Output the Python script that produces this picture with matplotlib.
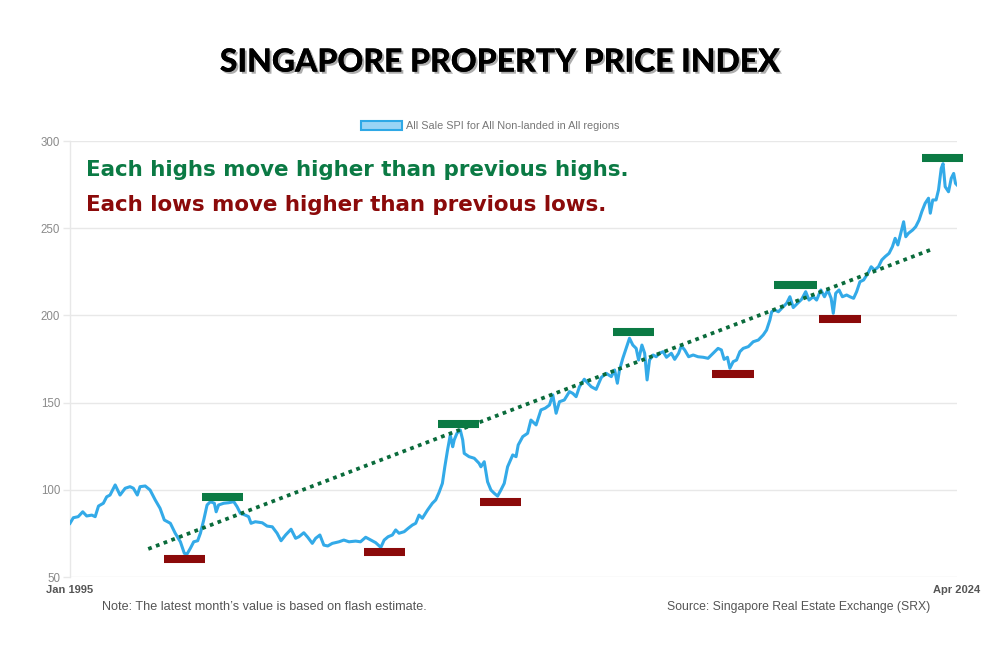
import matplotlib
matplotlib.use("Agg")
import matplotlib.pyplot as plt
from matplotlib.patches import Patch
import matplotlib.patheffects as pe

# ---------------- data ----------------
dates = [1995.00, 1995.11, 1995.27, 1995.42, 1995.55, 1995.72, 1995.83, 1995.94,
         1996.10, 1996.21, 1996.32, 1996.49, 1996.65, 1996.82, 1996.98, 1997.09,
         1997.22, 1997.31, 1997.48, 1997.64, 1997.81, 1997.97, 1998.11, 1998.31,
         1998.47, 1998.64, 1998.77, 1998.86, 1998.97, 1999.08, 1999.21, 1999.30,
         1999.41, 1999.52, 1999.63, 1999.76, 1999.82, 1999.90, 2000.07, 2000.23,
         2000.40, 2000.51, 2000.62, 2000.78, 2000.89, 2000.97, 2001.11, 2001.34,
         2001.50, 2001.67, 2001.83, 2001.96, 2002.11, 2002.29, 2002.44, 2002.55,
         2002.71, 2002.84, 2002.99, 2003.10, 2003.24, 2003.37, 2003.50, 2003.65,
         2003.87, 2004.03, 2004.20, 2004.42, 2004.58, 2004.75, 2004.92, 2005.08,
         2005.25, 2005.36, 2005.49, 2005.63, 2005.74, 2005.85, 2006.02, 2006.15,
         2006.29, 2006.40, 2006.51, 2006.62, 2006.79, 2006.95, 2007.06, 2007.17,
         2007.28, 2007.36, 2007.45, 2007.54, 2007.62, 2007.67, 2007.76, 2007.87,
         2007.95, 2008.00, 2008.16, 2008.33, 2008.49, 2008.55, 2008.66, 2008.77,
         2008.88, 2008.99, 2009.10, 2009.21, 2009.32, 2009.43, 2009.60, 2009.71,
         2009.78, 2009.93, 2010.09, 2010.20, 2010.37, 2010.53, 2010.67, 2010.81,
         2010.92, 2011.03, 2011.14, 2011.30, 2011.47, 2011.58, 2011.69, 2011.80,
         2011.96, 2012.08, 2012.19, 2012.35, 2012.52, 2012.68, 2012.85, 2012.96,
         2013.05, 2013.12, 2013.23, 2013.34, 2013.45, 2013.56, 2013.67, 2013.75,
         2013.86, 2013.95, 2014.03, 2014.11, 2014.23, 2014.33, 2014.44, 2014.56,
         2014.67, 2014.83, 2014.94, 2015.07, 2015.16, 2015.27, 2015.40, 2015.55,
         2015.71, 2015.88, 2016.04, 2016.21, 2016.37, 2016.48, 2016.57, 2016.68,
         2016.76, 2016.87, 2016.98, 2017.09, 2017.20, 2017.37, 2017.53, 2017.70,
         2017.86, 2017.97, 2018.08, 2018.14, 2018.24, 2018.36, 2018.52, 2018.63,
         2018.74, 2018.85, 2019.02, 2019.13, 2019.26, 2019.37, 2019.51, 2019.62,
         2019.76, 2019.88, 2019.99, 2020.10, 2020.17, 2020.25, 2020.36, 2020.47,
         2020.61, 2020.72, 2020.84, 2020.94, 2021.05, 2021.17, 2021.31, 2021.42,
         2021.53, 2021.66, 2021.77, 2021.88, 2022.01, 2022.12, 2022.21, 2022.30,
         2022.41, 2022.49, 2022.56, 2022.65, 2022.79, 2022.89, 2023.00, 2023.09,
         2023.20, 2023.31, 2023.37, 2023.45, 2023.56, 2023.64, 2023.73, 2023.79,
         2023.86, 2023.97, 2024.06, 2024.14, 2024.20, 2024.25]

spi = [80.8, 84.0, 84.6, 87.4, 85.0, 85.5, 84.6, 90.7,
       92.3, 96.0, 97.0, 102.8, 97.0, 100.9, 101.8, 100.9,
       97.0, 101.8, 102.2, 99.9, 94.2, 89.4, 82.7, 80.8,
       75.1, 70.2, 63.6, 63.2, 66.5, 70.2, 70.8, 75.1,
       82.7, 91.3, 93.2, 92.3, 87.4, 91.3, 92.3, 92.6,
       93.2, 90.3, 86.5, 85.5, 84.6, 80.8, 81.7, 81.1,
       79.2, 78.8, 75.1, 70.8, 74.1, 77.4, 72.2, 73.1,
       75.4, 72.8, 69.3, 72.2, 74.1, 68.3, 67.8, 69.3,
       70.2, 71.2, 70.2, 70.6, 70.2, 72.8, 71.2, 69.7,
       67.0, 71.2, 73.1, 74.1, 77.0, 75.1, 76.0, 77.9,
       79.8, 80.8, 85.5, 83.7, 88.4, 92.3, 94.2, 98.5,
       103.7, 113.2, 122.8, 131.4, 124.7, 128.6, 132.4, 134.3,
       128.6, 120.9, 119.0, 118.1, 115.2, 113.2, 116.1, 104.6,
       99.9, 98.0, 96.4, 99.9, 103.7, 113.2, 120.0, 119.0,
       125.7, 130.5, 132.4, 140.0, 137.2, 145.8, 146.8, 148.6,
       154.4, 143.9, 150.5, 151.5, 156.3, 155.3, 153.4, 159.1,
       163.4, 161.1, 159.1, 157.6, 164.4, 166.8, 164.9, 168.7,
       161.1, 168.7, 175.4, 181.1, 186.9, 183.0, 181.1, 174.4,
       183.0, 178.3, 163.0, 174.4, 177.3, 176.3, 178.3, 179.2,
       176.0, 178.3, 174.8, 178.3, 182.5, 180.2, 176.3, 177.3,
       176.3, 176.0, 175.4, 178.3, 181.1, 180.2, 174.8, 176.0,
       169.7, 173.5, 174.4, 179.2, 181.1, 182.1, 184.9, 185.9,
       188.8, 191.6, 197.4, 202.1, 203.1, 202.1, 205.0, 206.9,
       210.7, 204.5, 207.4, 209.3, 213.6, 208.8, 210.7, 208.8,
       214.6, 210.7, 214.6, 209.8, 201.2, 212.7, 214.6, 210.7,
       211.7, 210.7, 209.8, 213.6, 219.3, 220.3, 224.1, 227.9,
       226.0, 227.9, 231.8, 233.7, 235.6, 239.4, 244.2, 240.4,
       248.0, 253.7, 245.1, 247.1, 249.0, 250.9, 254.7, 259.5,
       264.3, 267.2, 258.6, 266.2, 266.2, 271.9, 284.3, 287.0,
       273.8, 270.9, 278.6, 281.4, 275.7, 274.8]

# highs / lows markers (start, end, level)
high_start = [1999.36, 2007.13, 2012.91, 2018.23, 2023.09]
high_end   = [2000.72, 2008.48, 2014.27, 2019.62, 2024.45]
high_level = [95.9, 137.9, 190.5, 217.7, 290.3]

low_start = [1998.11, 2004.68, 2008.52, 2016.18, 2019.69]
low_end   = [1999.46, 2006.04, 2009.87, 2017.57, 2021.08]
low_level = [60.3, 64.3, 93.3, 166.4, 198.2]

trend_x = [1997.58, 2023.36]
trend_y = [66.1, 237.5]

y_ticks = [50, 100, 150, 200, 250, 300]
x_tick_pos = [1995.0, 2024.25]
x_tick_labels = ["Jan 1995", "Apr 2024"]

title = "SINGAPORE PROPERTY PRICE INDEX"
legend_label = "All Sale SPI for All Non-landed in All regions"
note_text = "Note: The latest month\u2019s value is based on flash estimate."
source_text = "Source: Singapore Real Estate Exchange (SRX)"
highs_text = "Each highs move higher than previous highs."
lows_text = "Each lows move higher than previous lows."

# ---------------- styling ----------------
LINE_BLUE = "#33aae8"
GREEN = "#0b7a44"
RED = "#8b0a0a"
GRID = "#e8e8e8"
TICK_GREY = "#8a8a8a"
NARROW = ["Liberation Sans Narrow", "Liberation Sans", "DejaVu Sans"]

fig = plt.figure(figsize=(10, 6.54), dpi=100)
fig.patch.set_facecolor("white")
ax = fig.add_axes([0.070, 0.1177, 0.887, 0.6667])

ax.set_xlim(1995.0, 2024.25)
ax.set_ylim(50, 300)

for s in ["top", "right", "bottom"]:
    ax.spines[s].set_visible(False)
ax.spines["left"].set_color(GRID)
ax.spines["left"].set_linewidth(1.0)

ax.set_yticks(y_ticks)
ax.yaxis.grid(True, color=GRID, linewidth=1.0)
ax.set_axisbelow(True)
ax.tick_params(axis="y", colors=GRID, length=5, width=1, labelcolor=TICK_GREY,
               labelsize=8.3, pad=2)
for lab in ax.get_yticklabels():
    lab.set_family(NARROW)

ax.set_xticks(x_tick_pos)
ax.set_xticklabels(x_tick_labels)
ax.tick_params(axis="x", length=0, labelsize=8, labelcolor="#555555", pad=6)
for lab in ax.get_xticklabels():
    lab.set_family(NARROW)
    lab.set_fontweight("bold")

# main line
ax.plot(dates, spi, color=LINE_BLUE, linewidth=2.2, solid_joinstyle="round",
        zorder=3)

# trend line
ax.plot(trend_x, trend_y, color="#0a6b3b", linewidth=2.7,
        linestyle=(0, (1, 1.2)), dash_capstyle="butt", zorder=4)

# highs / lows bars
for s, e, v in zip(high_start, high_end, high_level):
    ax.plot([s, e], [v, v], color=GREEN, linewidth=5.8, solid_capstyle="butt",
            zorder=5, clip_on=False)
for s, e, v in zip(low_start, low_end, low_level):
    ax.plot([s, e], [v, v], color=RED, linewidth=5.8, solid_capstyle="butt",
            zorder=5, clip_on=False)

# annotation texts
fig.text(0.086, 0.740, highs_text, color=GREEN, fontsize=15.4, fontweight="bold",
         family=["DejaVu Sans"], va="center", ha="left")
fig.text(0.086, 0.686, lows_text, color=RED, fontsize=15.4, fontweight="bold",
         family=["DejaVu Sans"], va="center", ha="left")

# title with shadow
fig.text(0.5, 0.905, title, fontsize=23, fontweight="black", color="black",
         family=["Lato", "DejaVu Sans"], ha="center", va="center",
         path_effects=[pe.withSimplePatchShadow(offset=(1.5, -1.5),
                                                 shadow_rgbFace="#777777",
                                                 alpha=0.6),
                       pe.Normal()])

# legend
handle = Patch(facecolor="#9ad4f5", edgecolor="#2ea8e6", linewidth=1.5,
               label=legend_label)
leg = fig.legend(handles=[handle], loc="center", bbox_to_anchor=(0.49, 0.807),
                 frameon=False, handlelength=3.8, handleheight=0.95,
                 handletextpad=0.4, prop={"size": 7.8,
                                          "family": ["Liberation Sans", "DejaVu Sans"]})
for t in leg.get_texts():
    t.set_color("#777777")

# footer notes
fig.text(0.102, 0.072, note_text, fontsize=9.1, color="#555555",
         family=NARROW, ha="left", va="center")
fig.text(0.930, 0.072, source_text, fontsize=8.8, color="#555555",
         family=NARROW, ha="right", va="center")

fig.savefig("out.png", dpi=100, facecolor="white")
